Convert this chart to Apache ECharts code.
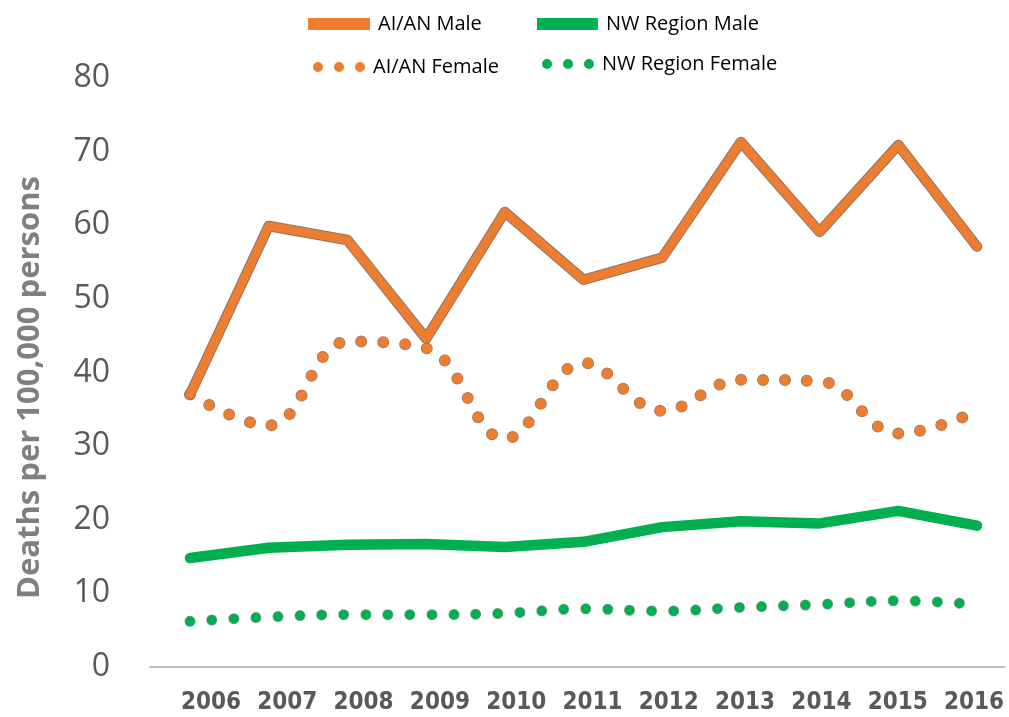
<!DOCTYPE html>
<html>
<head>
<meta charset="utf-8">
<script src="https://cdn.jsdelivr.net/npm/echarts@6/dist/echarts.min.js"></script>
<style>
html,body{margin:0;padding:0;background:#fff;}
#chart{width:1009px;height:717px;}
</style>
</head>
<body>
<div id="chart"></div>
<script>
var years = ['2006','2007','2008','2009','2010','2011','2012','2013','2014','2015','2016'];
var aianMale = [37.0, 59.9, 58.0, 44.6, 61.8, 52.6, 55.6, 71.3, 59.1, 70.9, 57.1];
var aianFemale = [37.0, 32.8, 44.2, 43.3, 31.0, 41.3, 34.8, 39.0, 38.8, 31.7, 34.7];
var nwMale = [14.8, 16.2, 16.6, 16.7, 16.3, 17.0, 19.0, 19.8, 19.5, 21.2, 19.2];
var nwFemale = [6.2, 6.8, 7.1, 7.1, 7.3, 7.9, 7.6, 8.1, 8.5, 9.0, 8.5];
var yTicks = [0, 10, 20, 30, 40, 50, 60, 70, 80];

var ORANGE = '#ED7D31', GREEN = '#00B050';
var DOTS = 'path://M0,5a5,5 0 1,0 10,0a5,5 0 1,0 -10,0M21,5a5,5 0 1,0 10,0a5,5 0 1,0 -10,0M42,5a5,5 0 1,0 10,0a5,5 0 1,0 -10,0';
var chart = echarts.init(document.getElementById('chart'));

function legendItem(name, left, top, icon, w, h) {
  return {
    data: [{name: name, icon: icon}], left: left, top: top, itemWidth: w, itemHeight: h, itemGap: 0,
    padding: 0, selectedMode: false,
    textStyle: {fontFamily: 'Open Sans', fontSize: 20, color: '#000', padding: [0,0,0,3]}
  };
}

chart.setOption({
  animation: false,
  legend: [
    legendItem('AI/AN Male', 308, 14, 'rect', 62, 12),
    legendItem('NW Region Male', 537, 14, 'rect', 61, 12),
    legendItem('AI/AN Female', 313, 57, DOTS, 52, 11),
    legendItem('NW Region Female', 542, 54, DOTS, 52, 11)
  ],
  grid: [
    {left: 150, right: 4, top: 78, bottom: 50},
    {left: 190, right: 32, top: 78, bottom: 50},
    {left: 211, right: 35, top: 78, bottom: 50}
  ],
  xAxis: [
    {gridIndex: 0, type: 'category', data: years, axisLine: {lineStyle: {color: '#BFBFBF', width: 2}},
     axisTick: {show: false}, axisLabel: {show: false}},
    {gridIndex: 1, type: 'category', data: years, boundaryGap: false, axisLine: {show: false},
     axisTick: {show: false}, axisLabel: {show: false}},
    {gridIndex: 2, type: 'category', data: years, boundaryGap: false, axisLine: {show: false},
     axisTick: {show: false},
     axisLabel: {interval: 0, margin: 24, fontFamily: 'DejaVu Sans Condensed', fontSize: 24, fontWeight: 'bold', color: '#595959'}}
  ],
  yAxis: [
    {gridIndex: 0, type: 'value', min: yTicks[0], max: yTicks[yTicks.length-1], interval: 10,
     splitLine: {show: false}, axisLine: {show: false}, axisTick: {show: false},
     axisLabel: {margin: 40, fontFamily: 'Open Sans', fontSize: 32, color: '#595959'},
     name: 'Deaths per 100,000 persons', nameLocation: 'middle', nameRotate: 90, nameGap: 104,
     nameTextStyle: {fontFamily: 'Open Sans', fontSize: 31, fontWeight: 'bold', color: '#7F7F7F', padding: [0,30,0,0]}},
    {gridIndex: 1, type: 'value', min: yTicks[0], max: yTicks[yTicks.length-1], interval: 10, show: false},
    {gridIndex: 2, type: 'value', min: yTicks[0], max: yTicks[yTicks.length-1], interval: 10, show: false}
  ],
  series: [
    {name: 'NW Region Female', type: 'line', xAxisIndex: 1, yAxisIndex: 1, data: nwFemale, smooth: 0.4,
     symbol: 'none', color: GREEN, z: 2,
     lineStyle: {color: GREEN, width: 9.5, type: [0, 22], cap: 'round'}},
    {name: 'nwf-outline', type: 'line', xAxisIndex: 1, yAxisIndex: 1, data: nwFemale, smooth: 0.4,
     symbol: 'none', color: '#7a9a84', z: 1, silent: true,
     lineStyle: {color: '#7a9a84', width: 11, type: [0, 22], cap: 'round'}},
    {name: 'NW Region Male', type: 'line', xAxisIndex: 1, yAxisIndex: 1, data: nwMale,
     symbol: 'none', color: GREEN, z: 3,
     lineStyle: {color: GREEN, width: 10.5, cap: 'round', join: 'round'}},
    {name: 'aif-outline', type: 'line', xAxisIndex: 1, yAxisIndex: 1, data: aianFemale, smooth: 0.4,
     symbol: 'none', color: '#9a7a66', z: 4, silent: true,
     lineStyle: {color: '#9a7a66', width: 12, type: [0, 22], cap: 'round'}},
    {name: 'AI/AN Female', type: 'line', xAxisIndex: 1, yAxisIndex: 1, data: aianFemale, smooth: 0.4,
     symbol: 'none', color: ORANGE, z: 5,
     lineStyle: {color: ORANGE, width: 10.5, type: [0, 22], cap: 'round'}},
    {name: 'aim-outline', type: 'line', xAxisIndex: 1, yAxisIndex: 1, data: aianMale,
     symbol: 'none', color: '#8f7462', z: 6, silent: true,
     lineStyle: {color: '#8f7462', width: 10.5, cap: 'round', join: 'round'}},
    {name: 'AI/AN Male', type: 'line', xAxisIndex: 1, yAxisIndex: 1, data: aianMale,
     symbol: 'none', color: ORANGE, z: 7,
     lineStyle: {color: ORANGE, width: 8.5, cap: 'round', join: 'round'}}
  ]
});
</script>
</body>
</html>
